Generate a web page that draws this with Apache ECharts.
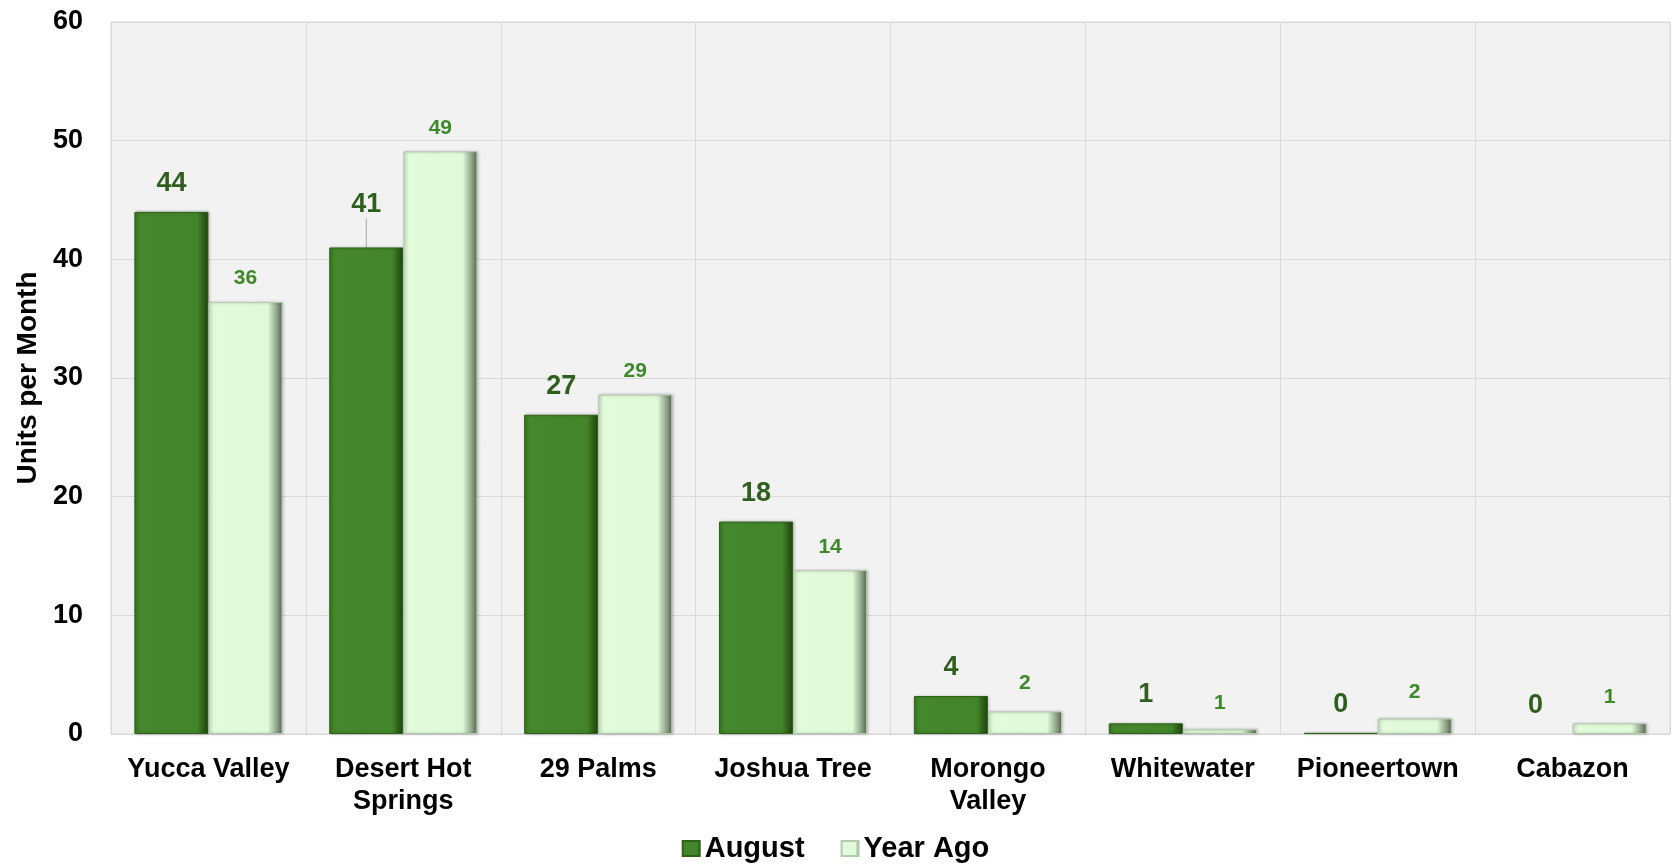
<!DOCTYPE html>
<html>
<head>
<meta charset="utf-8">
<style>
html,body{margin:0;padding:0;background:#fff;}
#chart{width:1671px;height:864px;}
</style>
<script src="https://cdn.jsdelivr.net/npm/echarts@6/dist/echarts.min.js"></script>
</head>
<body>
<div id="chart"></div>
<script>
// ---- data ----
const categories = ['Yucca Valley', 'Desert Hot\nSprings', '29 Palms', 'Joshua Tree', 'Morongo\nValley', 'Whitewater', 'Pioneertown', 'Cabazon'];
const seriesNames = ['August', 'Year Ago'];
const augustValues = [44.0, 41.0, 26.9, 17.9, 3.2, 0.9, 0.1, 0];
const yearAgoValues = [36.4, 49.1, 28.6, 13.8, 1.9, 0.4, 1.3, 0.9];
const augustLabels = ['44', '41', '27', '18', '4', '1', '0', '0'];
const yearAgoLabels = ['36', '49', '29', '14', '2', '1', '2', '1'];
const yTicks = [0, 10, 20, 30, 40, 50, 60];

// ---- style helpers ----
const augustLabelShift = [0, -14, 0, 0, -6, -7, -14, -11];
const yearAgoLabelShift = [0, 0, 0, 0, -5, -3, -3, -3];
const leaderIndex = 1;
const FONT = 'Liberation Sans, Arial, sans-serif';

const augustColor = {
  type: 'linear', x: 0, y: 0, x2: 1, y2: 0,
  colorStops: [
    {offset: 0, color: '#3c7a25'},
    {offset: 0.08, color: '#45872c'},
    {offset: 0.85, color: '#43852a'},
    {offset: 0.93, color: '#2f6019'},
    {offset: 1, color: '#1f4510'}
  ]
};
const yearAgoColor = {
  type: 'linear', x: 0, y: 0, x2: 1, y2: 0,
  colorStops: [
    {offset: 0, color: '#cfe9c8'},
    {offset: 0.08, color: '#e2fcdb'},
    {offset: 0.8, color: '#e0fad9'},
    {offset: 0.91, color: '#97ad92'},
    {offset: 1, color: '#56664f'}
  ]
};

const augustData = augustValues.map((v, i) => ({
  value: v,
  itemStyle: v === 0 ? {borderWidth: 0, shadowBlur: 0} : undefined,
  label: {offset: [0, i === leaderIndex ? 0 : augustLabelShift[i]]},
  labelLine: {show: i === leaderIndex}
}));
const yearAgoData = yearAgoValues.map((v, i) => ({
  value: v,
  label: {offset: [0, yearAgoLabelShift[i]]}
}));

const chart = echarts.init(document.getElementById('chart'), null, {renderer: 'canvas'});
chart.setOption({
  backgroundColor: '#ffffff',
  animation: false,
  grid: {
    left: 111, right: 1, top: 22, bottom: 130,
    show: true, backgroundColor: '#f2f2f2', borderColor: '#d9d9d9', borderWidth: 1
  },
  legend: {
    data: seriesNames,
    bottom: -4,
    left: 'center',
    icon: 'rect',
    itemWidth: 17,
    itemHeight: 15,
    itemGap: 36,
    textStyle: {fontFamily: FONT, fontWeight: 'bold', fontSize: 29, color: '#000'}
  },
  xAxis: {
    type: 'category',
    data: categories,
    axisLine: {show: true, lineStyle: {color: '#d9d9d9', width: 1}},
    axisTick: {show: false},
    splitLine: {show: true, lineStyle: {color: '#d9d9d9', width: 1}},
    axisLabel: {
      fontFamily: FONT, fontWeight: 'bold', fontSize: 27, color: '#000',
      margin: 20, lineHeight: 32, interval: 0
    }
  },
  yAxis: {
    type: 'value',
    min: yTicks[0],
    max: yTicks[yTicks.length - 1],
    interval: 10,
    name: 'Units per Month',
    nameLocation: 'middle',
    nameGap: 68,
    nameTextStyle: {fontFamily: FONT, fontWeight: 'bold', fontSize: 28, color: '#000'},
    axisLine: {show: false},
    axisTick: {show: false},
    splitLine: {show: true, lineStyle: {color: '#d9d9d9', width: 1}},
    axisLabel: {fontFamily: FONT, fontWeight: 'bold', fontSize: 27, color: '#000', margin: 28}
  },
  series: [
    {
      name: seriesNames[0],
      type: 'bar',
      data: augustData,
      barGap: '0%',
      barCategoryGap: '24%',
      itemStyle: {
        color: augustColor,
        borderColor: '#2e6419',
        borderWidth: 1,
        shadowColor: 'rgba(0,0,0,0.25)',
        shadowBlur: 3,
        shadowOffsetX: 1
      },
      label: {
        show: true,
        position: 'top',
        distance: 15,
        formatter: p => augustLabels[p.dataIndex],
        fontFamily: FONT, fontWeight: 'bold', fontSize: 27, color: '#2f5f1f'
      },
      labelLayout: p => (p.dataIndex === leaderIndex ? {dy: augustLabelShift[leaderIndex]} : {}),
      labelLine: {show: false, length2: 0, lineStyle: {color: '#a6a6a6', width: 1}}
    },
    {
      name: seriesNames[1],
      type: 'bar',
      data: yearAgoData,
      itemStyle: {
        color: yearAgoColor,
        borderColor: '#b5c9b0',
        borderWidth: 1,
        shadowColor: 'rgba(0,0,0,0.25)',
        shadowBlur: 3,
        shadowOffsetX: 1
      },
      label: {
        show: true,
        position: 'top',
        distance: 13,
        formatter: p => yearAgoLabels[p.dataIndex],
        fontFamily: FONT, fontWeight: 'bold', fontSize: 21, color: '#3d8a2b'
      }
    }
  ]
});
</script>
</body>
</html>
